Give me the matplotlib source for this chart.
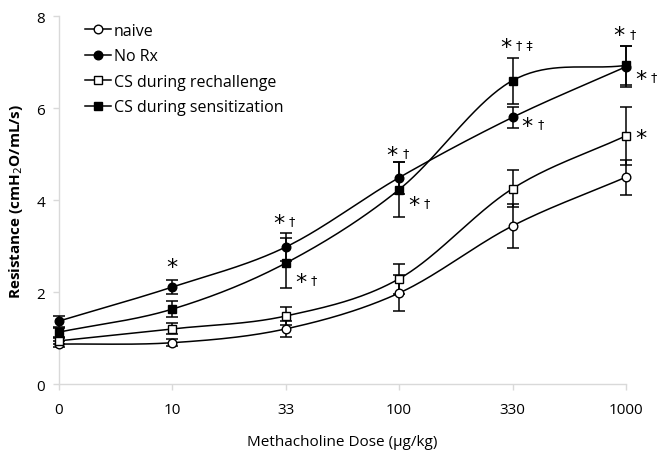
import numpy as np
import matplotlib
matplotlib.use("Agg")
import matplotlib.pyplot as plt
from matplotlib.lines import Line2D

plt.rcParams['font.family'] = ['Open Sans', 'DejaVu Sans']

doses = ["0", "10", "33", "100", "330", "1000"]
naive = [0.87, 0.90, 1.20, 1.98, 3.44, 4.50]
naive_err = [0.07, 0.08, 0.18, 0.40, 0.47, 0.38]
norx = [1.37, 2.11, 2.98, 4.49, 5.80, 6.90]
norx_err = [0.12, 0.15, 0.30, 0.35, 0.23, 0.45]
rechal = [0.94, 1.20, 1.48, 2.29, 4.25, 5.40]
rechal_err = [0.07, 0.12, 0.20, 0.32, 0.40, 0.63]
sens = [1.13, 1.63, 2.63, 4.23, 6.60, 6.93]
sens_err = [0.10, 0.18, 0.55, 0.60, 0.50, 0.43]

series = [
    ("naive", naive, naive_err, 'o', 'white'),
    ("No Rx", norx, norx_err, 'o', 'black'),
    ("CS during rechallenge", rechal, rechal_err, 's', 'white'),
    ("CS during sensitization", sens, sens_err, 's', 'black'),
]

# annotations: (x index, y value, text, side)
annots = [
    (1, 2.55, "*", 0),
    (2, 3.50, "*†", 0),
    (2, 2.22, "*†", 1),
    (3, 4.98, "*†", 0),
    (3, 3.90, "*†", 1),
    (4, 7.33, "*†‡", 0),
    (4, 5.62, "*†", 1),
    (5, 7.58, "*†", 0),
    (5, 6.63, "*†", 1),
    (5, 5.36, "*", 1),
]


def catmull(x, y, n=40):
    x = np.asarray(x, float)
    y = np.asarray(y, float)
    P = np.column_stack([x, y])
    P = np.vstack([P[0] - (P[1] - P[0]), P, P[-1] + (P[-1] - P[-2])])
    out = []
    t = np.linspace(0, 1, n)[:, None]
    for i in range(1, len(P) - 2):
        p0, p1, p2, p3 = P[i - 1], P[i], P[i + 1], P[i + 2]
        c1 = p1 + (p2 - p0) / 6
        c2 = p2 - (p3 - p1) / 6
        seg = ((1 - t) ** 3) * p1 + 3 * ((1 - t) ** 2) * t * c1 + 3 * (1 - t) * t ** 2 * c2 + t ** 3 * p2
        out.append(seg if i == 1 else seg[1:])
    out = np.vstack(out)
    return out[:, 0], out[:, 1]


fig = plt.figure(figsize=(6.61, 4.52), dpi=100)
ax = fig.add_axes([0.089, 0.148, 0.858, 0.814])

xs = np.arange(len(doses))
handles = []
for name, vals, err, mk, fc in series:
    sx, sy = catmull(xs, vals)
    ax.plot(sx, sy, color='black', lw=1.1, zorder=2, clip_on=False)
    ax.errorbar(xs, vals, yerr=err, fmt='none', ecolor='black', elinewidth=1.1,
                capsize=4, capthick=1.1, zorder=3, clip_on=False)
    ax.plot(xs, vals, linestyle='none', marker=mk, markersize=6.2, markerfacecolor=fc,
            markeredgecolor='black', markeredgewidth=1.0, zorder=4, clip_on=False)
    handles.append(Line2D([0], [0], color='black', lw=1.1, marker=mk, markersize=6.2,
                          markerfacecolor=fc, markeredgecolor='black', label=name))

for xi, yv, txt, side in annots:
    star = txt[0]
    rest = " ".join(txt[1:])
    if side == 0:
        ax.text(xi - (0.06 if rest else 0), yv, star, fontsize=16, ha='center', va='center',
                family='DejaVu Sans', zorder=5)
        if rest:
            ax.text(xi + 0.03, yv + 0.05, rest, fontsize=9, ha='left', va='center',
                    family='DejaVu Sans', zorder=5)
    else:
        x0 = xi + 0.1
        ax.text(x0 + 0.03, yv, star, fontsize=16, ha='center', va='center',
                family='DejaVu Sans', zorder=5)
        if rest:
            ax.text(x0 + 0.12, yv + 0.05, rest, fontsize=9, ha='left', va='center',
                    family='DejaVu Sans', zorder=5)

ax.set_xlim(0, 5)
ax.set_ylim(0, 8)
ax.set_xticks(xs)
ax.set_xticklabels(doses)
ax.set_yticks([0, 2, 4, 6, 8])
for s in ['top', 'right']:
    ax.spines[s].set_visible(False)
for s in ['left', 'bottom']:
    ax.spines[s].set_color('#d9d9d9')
    ax.spines[s].set_linewidth(1.0)
ax.tick_params(axis='both', colors='#d9d9d9', labelcolor='black', length=4, width=1.0,
               labelsize=11)
ax.tick_params(axis='x', pad=9)
ax.tick_params(axis='y', pad=6)
ax.set_xlabel("Methacholine Dose (μg/kg)", fontsize=11, labelpad=12)
ax.set_ylabel("Resistance (cmH$_2$O/mL/s)", fontsize=11, fontweight='bold', labelpad=8)

ax.legend(handles=handles, loc='upper left', bbox_to_anchor=(0.035, 1.0), frameon=False,
          fontsize=11.5, handlelength=1.6, handletextpad=0.2, labelspacing=0.6, borderaxespad=0)

fig.savefig("out.png", dpi=100)
